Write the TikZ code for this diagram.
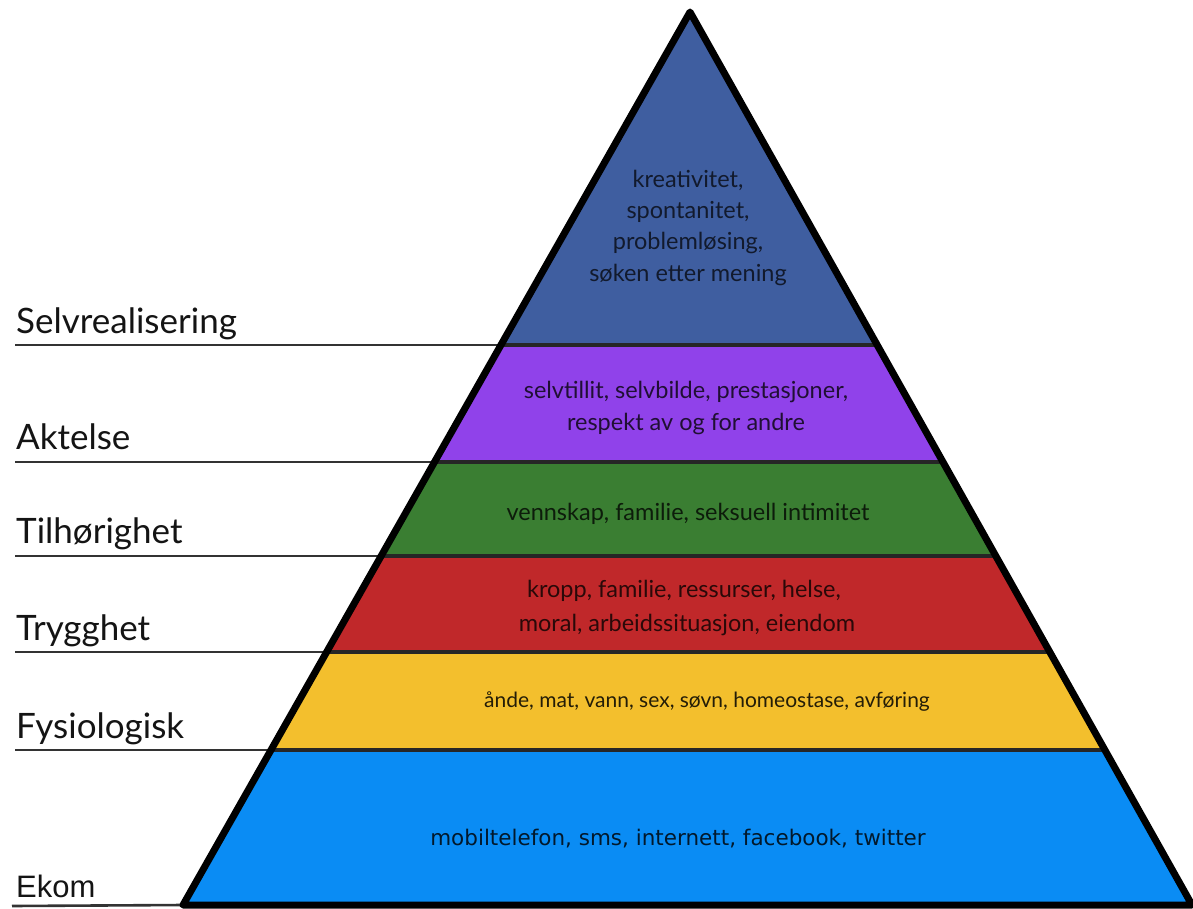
\documentclass[tikz,border=0pt]{standalone}
\usepackage{fontspec}
\setmainfont{Lato}
\newfontfamily\dejavu{DejaVu Sans}
\newfontfamily\arialf{Liberation Sans}
\definecolor{topc}{RGB}{63,94,160}
\definecolor{purc}{RGB}{144,66,234}
\definecolor{grnc}{RGB}{58,126,50}
\definecolor{redc}{RGB}{192,40,42}
\definecolor{yelc}{RGB}{243,191,45}
\definecolor{bluc}{RGB}{10,140,244}
\definecolor{labc}{RGB}{20,20,20}
\tikzset{
  outline/.style={draw=black,line width=7pt,line join=round},
  labline/.style={draw=black!80,line width=2.6pt},
  sepline/.style={draw=black!85,line width=3.5pt},
  lab/.style={anchor=base west,inner sep=0pt,text=labc,font=\fontsize{35}{40}\selectfont},
  intext/.style={anchor=base,inner sep=0pt,font=\fontsize{23.5}{28}\selectfont},
}
\begin{document}
\begin{tikzpicture}[x=1pt,y=-1pt]
\useasboundingbox (0,0) rectangle (1193,909);
% pyramid corners
\coordinate (apex) at (690,12);
\coordinate (bl) at (183,905);
\coordinate (br) at (1192,905);
% band boundaries on edges
\coordinate (l1) at (500.9,345); \coordinate (r1) at (877.2,345);
\coordinate (l2) at (434.5,462); \coordinate (r2) at (943.0,462);
\coordinate (l3) at (381.1,556); \coordinate (r3) at (995.8,556);
\coordinate (l4) at (326.6,652); \coordinate (r4) at (1049.8,652);
\coordinate (l5) at (271.0,750); \coordinate (r5) at (1104.9,750);
% label line starts
\coordinate (s1) at (15,345);
\coordinate (s2) at (15,462);
\coordinate (s3) at (15,556);
\coordinate (s4) at (15,652);
\coordinate (s5) at (15,750);
\coordinate (s6) at (12,906);
% fills
\fill[topc] (apex) -- (r1) -- (l1) -- cycle;
\fill[purc] (l1) -- (r1) -- (r2) -- (l2) -- cycle;
\fill[grnc] (l2) -- (r2) -- (r3) -- (l3) -- cycle;
\fill[redc] (l3) -- (r3) -- (r4) -- (l4) -- cycle;
\fill[yelc] (l4) -- (r4) -- (r5) -- (l5) -- cycle;
\fill[bluc] (l5) -- (r5) -- (br) -- (bl) -- cycle;
% label lines
\draw[labline] (s1) -- (l1);
\draw[labline] (s2) -- (l2);
\draw[labline] (s3) -- (l3);
\draw[labline] (s4) -- (l4);
\draw[labline] (s5) -- (l5);
\draw[labline] (s6) -- (bl);
% separators
\draw[sepline] (l1) -- (r1);
\draw[sepline] (l2) -- (r2);
\draw[sepline] (l3) -- (r3);
\draw[sepline] (l4) -- (r4);
\draw[sepline] (l5) -- (r5);
% outline
\draw[outline] (apex) -- (br) -- (bl) -- cycle;
% left labels
\node[lab] (n1) at (16,333) {Selvrealisering};
\node[lab] (n2) at (16,449) {Aktelse};
\node[lab] (n3) at (16,543) {Tilhørighet};
\node[lab] (n4) at (16,640) {Trygghet};
\node[lab] (n5) at (16,738) {Fysiologisk};
\node[lab,font=\arialf\fontsize{31}{36}\selectfont] (n6) at (16,897) {Ekom};
% band texts
\node[intext,text=topc!28!black] (t1a) at (688,188) {kreativitet,};
\node[intext,text=topc!28!black] (t1b) at (688,219) {spontanitet,};
\node[intext,text=topc!28!black] (t1c) at (688,250) {problemløsing,};
\node[intext,text=topc!28!black] (t1d) at (688,281) {søken etter mening};
\node[intext,text=purc!22!black] (t2a) at (686,398) {selvtillit, selvbilde, prestasjoner,};
\node[intext,text=purc!22!black] (t2b) at (686,430) {respekt av og for andre};
\node[intext,text=grnc!22!black] (t3) at (688,520) {vennskap, familie, seksuell intimitet};
\node[intext,text=redc!22!black] (t4a) at (684,597) {kropp, familie, ressurser, helse,};
\node[intext,text=redc!22!black] (t4b) at (687,631) {moral, arbeidssituasjon, eiendom};
\node[intext,text=yelc!15!black,font=\fontsize{21}{26}\selectfont] (t5) at (707,707) {ånde, mat, vann, sex, søvn, homeostase, avføring};
\node[intext,text=bluc!18!black,font=\dejavu\fontsize{21.5}{26}\selectfont] (t6) at (678,845) {mobiltelefon, sms, internett, facebook, twitter};
\end{tikzpicture}
\end{document}
